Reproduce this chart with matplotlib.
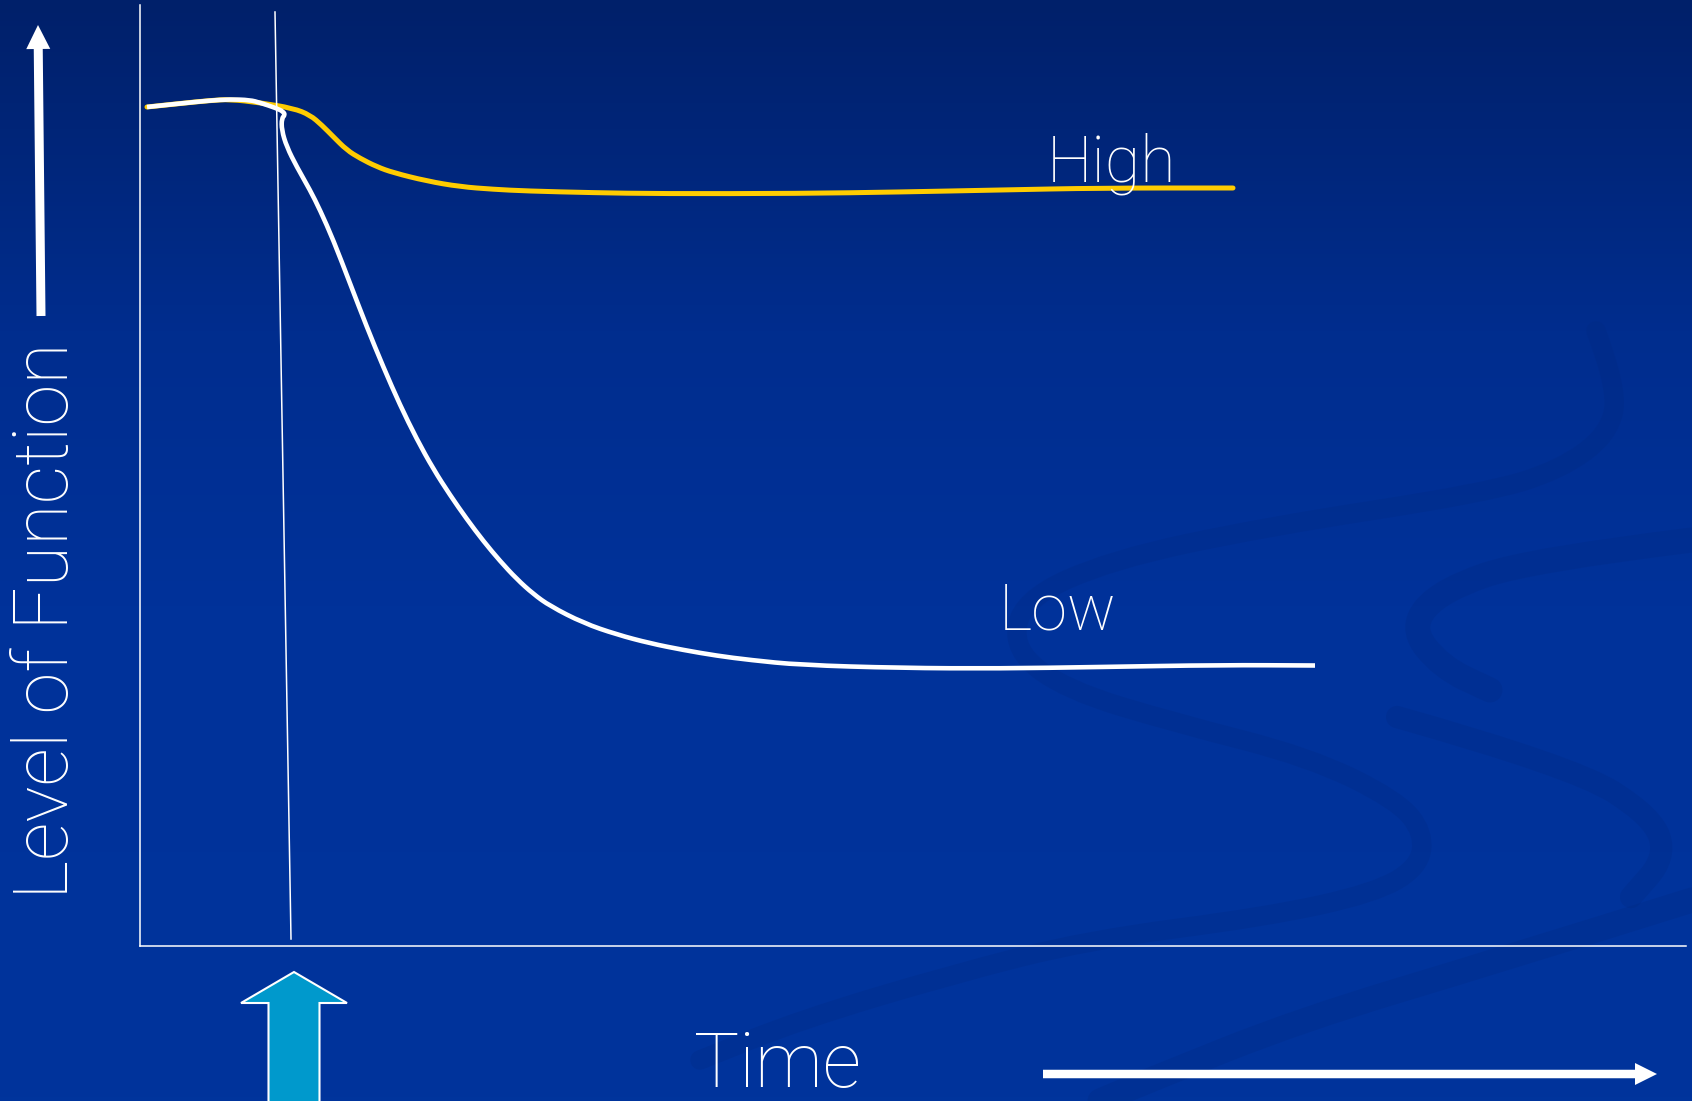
import numpy as np
import matplotlib.pyplot as plt
from matplotlib.patches import FancyArrow, PathPatch
from matplotlib.path import Path
from matplotlib.colors import LinearSegmentedColormap

plt.rcParams['font.family'] = ['Roboto', 'DejaVu Sans']

# Level of function over time (arbitrary units, axis origin at 0, 0)
low_time = [7, 40, 70, 90, 110, 120, 136.7, 143.3, 145, 141.7, 141.7, 146.7,
            156.7, 170, 180, 193.3, 210, 226.7, 243.3, 260, 276.7, 293.3,
            310, 326.7, 343.3, 360, 376.7, 393.3, 410, 443.3, 476.7, 510,
            543.3, 576.7, 610, 660, 760, 860, 960, 1080, 1175]
low_level = [839, 842.5, 845.5, 846.7, 846, 843.3, 837.7, 834.3, 831, 827.7,
             816, 799.3, 779.3, 756, 736, 706, 662.7, 619.3, 579, 541, 507,
             477, 451, 427, 405, 385, 367, 352, 340, 323, 311.5, 302.7, 296,
             290.3, 286, 281, 278, 277.5, 279, 281, 280.5]

high_time = [7, 40, 70, 90, 120, 153.3, 170, 181.7, 193.3, 206.7, 220, 236.7,
             253.3, 286.7, 320, 353.3, 386.7, 453.3, 520, 660, 760, 860, 960,
             1093]
high_level = [839, 842.5, 845.5, 846.7, 843.3, 837.7, 831, 821, 809.3, 796,
              787.7, 779.3, 773.3, 765, 759.3, 756.7, 755, 753.3, 752.3,
              752.5, 754, 756, 758, 758]

# moment of the event (thin marker line)
event_time = [135, 151]
event_level = [934, 7]

labels = {'High': (907, 765), 'Low': (859, 316)}

W, H = 1692, 1101
fig = plt.figure(figsize=(W / 100, H / 100), dpi=100)

# background layer in pixel units
bg = fig.add_axes([0, 0, 1, 1])
bg.set_xlim(0, W)
bg.set_ylim(H, 0)
bg.axis('off')

cmap = LinearSegmentedColormap.from_list(
    'slide', [(0, '#00206a'), (0.3, '#002d8e'), (0.55, '#00329a'),
              (1, '#00349c')])
grad = np.linspace(0, 1, 256).reshape(-1, 1)
bg.imshow(grad, cmap=cmap, extent=(0, W, H, 0), aspect='auto', zorder=0)


def smooth_path(xs, ys):
    # quadratic bezier through midpoints of the polyline
    pts = np.column_stack([xs, ys]).astype(float)
    verts = [pts[0]]
    codes = [Path.MOVETO]
    for i in range(1, len(pts) - 1):
        mid = (pts[i] + pts[i + 1]) / 2
        verts += [pts[i], mid]
        codes += [Path.CURVE3, Path.CURVE3]
    verts.append(pts[-1])
    codes.append(Path.LINETO)
    return Path(verts, codes)


# faint ribbons in the slide background
swirls = [
    ([(1596, 331), (1618, 389), (1609, 434), (1560, 470), (1485, 493),
      (1265, 527), (1110, 560), (1022, 600), (1013, 650), (1066, 690),
      (1176, 723), (1309, 757), (1397, 800), (1424, 833), (1419, 867),
      (1375, 893), (1265, 917), (1088, 940), (950, 975), (800, 1020),
      (700, 1060)], 14),
    ([(1692, 540), (1530, 560), (1441, 590), (1410, 627), (1441, 667),
      (1490, 690)], 18),
    ([(1397, 717), (1574, 767), (1653, 817), (1666, 857), (1631, 897)], 16),
    ([(1692, 900), (1500, 960), (1300, 1020), (1150, 1080), (1100, 1101)], 18),
]
for pts, lw in swirls:
    sx, sy = zip(*pts)
    bg.add_patch(PathPatch(smooth_path(sx, sy), fill=False,
                           edgecolor='#00287e', lw=lw, alpha=0.24,
                           capstyle='round', zorder=1))

# chart axes
ax = fig.add_axes([140 / W, (H - 946) / H, 1546 / W, 941 / H])
ax.set_facecolor('none')
ax.set_xlim(0, 1546)
ax.set_ylim(0, 941)
ax.set_xticks([])
ax.set_yticks([])
for side in ('top', 'right'):
    ax.spines[side].set_visible(False)
for side in ('left', 'bottom'):
    ax.spines[side].set_color('white')
    ax.spines[side].set_linewidth(1.1)

ax.plot(event_time, event_level, color='white', lw=1.1, clip_on=False)
ax.add_patch(PathPatch(smooth_path(high_time, high_level), fill=False,
                       edgecolor='#ffcc00', lw=3.6, capstyle='round'))
ax.add_patch(PathPatch(smooth_path(low_time, low_level), fill=False,
                       edgecolor='white', lw=3.3, capstyle='butt',
                       joinstyle='round'))

for name, (tx, ty) in labels.items():
    ax.text(tx, ty, name, color='white', fontsize=46.5, fontweight='light',
            ha='left', va='baseline')

# axis titles and arrows
bg.text(68, 899, 'Level of Function', rotation=90, rotation_mode='anchor',
        ha='left', va='baseline', fontsize=54.5, fontweight='light',
        color='white', zorder=3)
bg.text(694, 1087, 'Time', ha='left', va='baseline', fontsize=54.5,
        fontweight='light', color='white', zorder=3)

bg.add_patch(FancyArrow(41, 316, -3, -291, width=9, head_width=24,
                        head_length=24, length_includes_head=True,
                        color='white', lw=0, zorder=3))
bg.add_patch(FancyArrow(1043, 1074, 614, 0, width=8.5, head_width=22,
                        head_length=22, length_includes_head=True,
                        color='white', lw=0, zorder=3))
bg.add_patch(FancyArrow(294, 1115, 0, -143, width=51, head_width=106,
                        head_length=31, length_includes_head=True,
                        facecolor='#0099cc', edgecolor='white', lw=1.5,
                        zorder=3))

fig.savefig('out.png', dpi=100)
